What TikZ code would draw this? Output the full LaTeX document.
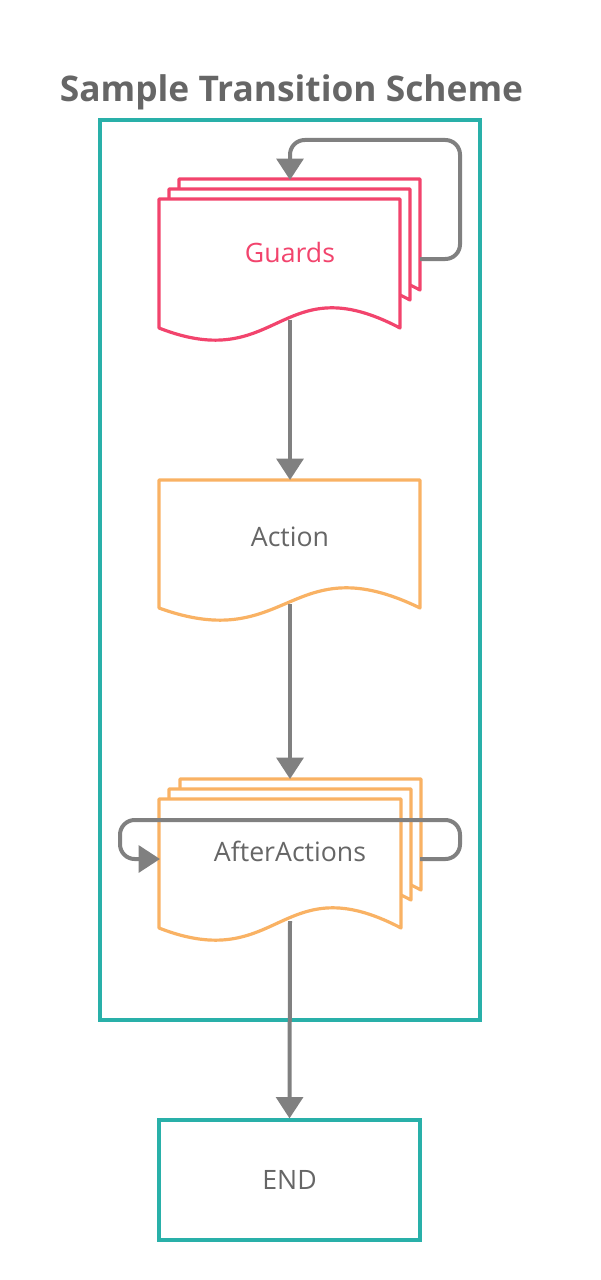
\documentclass[tikz,border=0pt]{standalone}
\usepackage{fontspec}
\setmainfont{Open Sans}
\usetikzlibrary{arrows.meta}
\definecolor{tealc}{HTML}{29B0A9}
\definecolor{pinkc}{HTML}{F2446D}
\definecolor{orangec}{HTML}{F9B264}
\definecolor{linegray}{HTML}{808080}
\definecolor{textgray}{HTML}{666666}
% #1 style, #2 x0, #3 ytop, #4 x1, #5 ybottom
\newcommand{\docsheet}[5]{%
  \draw[#1] (#2,#5) -- (#2,#3) -- (#4,#3) -- (#4,#5)
    .. controls ({(#2+#4)/2},#5-63.5) and ({(#2+#4)/2},#5+47.4) .. (#2,#5) -- cycle;}
\tikzset{
  sheetpink/.style={draw=pinkc, line width=2.4pt, fill=white, line join=round},
  sheetorange/.style={draw=orangec, line width=2.4pt, fill=white, line join=round},
  flow/.style={draw=linegray, line width=3pt, -{Triangle[width=20pt,length=16pt]}},
  loopflow/.style={flow, rounded corners=11pt},
  lbl/.style={font=\fontsize{20}{24}\selectfont, text=textgray, anchor=base, inner sep=0pt},
  titletext/.style={font=\fontsize{26.5}{32}\selectfont\bfseries, text=textgray, anchor=base, inner sep=0pt},
  endbox/.style={draw=tealc, line width=2.4pt, minimum width=195.75pt, minimum height=90pt,
    font=\fontsize{20}{24}\selectfont, text=textgray, inner sep=0pt},
}
\begin{document}
\begin{tikzpicture}[x=0.75pt,y=-0.75pt]
\useasboundingbox (0,0) rectangle (600,1280);
\node[titletext] (title) at (291.5,101.5) {Sample Transition Scheme};
% outer container
\draw[tealc, line width=2.4pt] (100,120) rectangle (480,1020);
% Guards stack
\docsheet{sheetpink}{179}{179}{420}{290}
\docsheet{sheetpink}{169}{189}{410}{300}
\docsheet{sheetpink}{159}{199}{400}{328}
\node[lbl, text=pinkc] (guards) at (290,262.5) {Guards};
% Action
\docsheet{sheetorange}{159}{480}{420}{608}
\node[lbl] (action) at (290,546.5) {Action};
% AfterActions stack
\docsheet{sheetorange}{180}{779}{421}{890}
\docsheet{sheetorange}{169}{789}{411}{900}
\docsheet{sheetorange}{159}{799}{401}{928}
\node[lbl] (after) at (290,861.5) {AfterActions};
% END
\node[endbox] (endnode) at (289.5,1180) {END};
% connector coordinates
\coordinate (gloopout) at (420,259);
\coordinate (gtop) at (290,180);
\coordinate (gout) at (290,320);
\coordinate (atop) at (290,480);
\coordinate (aout) at (290,604);
\coordinate (aftop) at (290,779);
\coordinate (afloopout) at (420,859);
\coordinate (afin) at (160,859);
\coordinate (afout) at (290,921);
% connectors
\draw[loopflow] (gloopout) -- (460,259) -- (460,140) -- (290,140) -- (gtop);
\draw[flow] (gout) -- (atop);
\draw[flow] (aout) -- (aftop);
\draw[loopflow] (afloopout) -- (460,859) -- (460,820) -- (120,820) -- (120,859) -- (afin);
\draw[flow] (afout) -- (endnode.north);
\end{tikzpicture}
\end{document}
